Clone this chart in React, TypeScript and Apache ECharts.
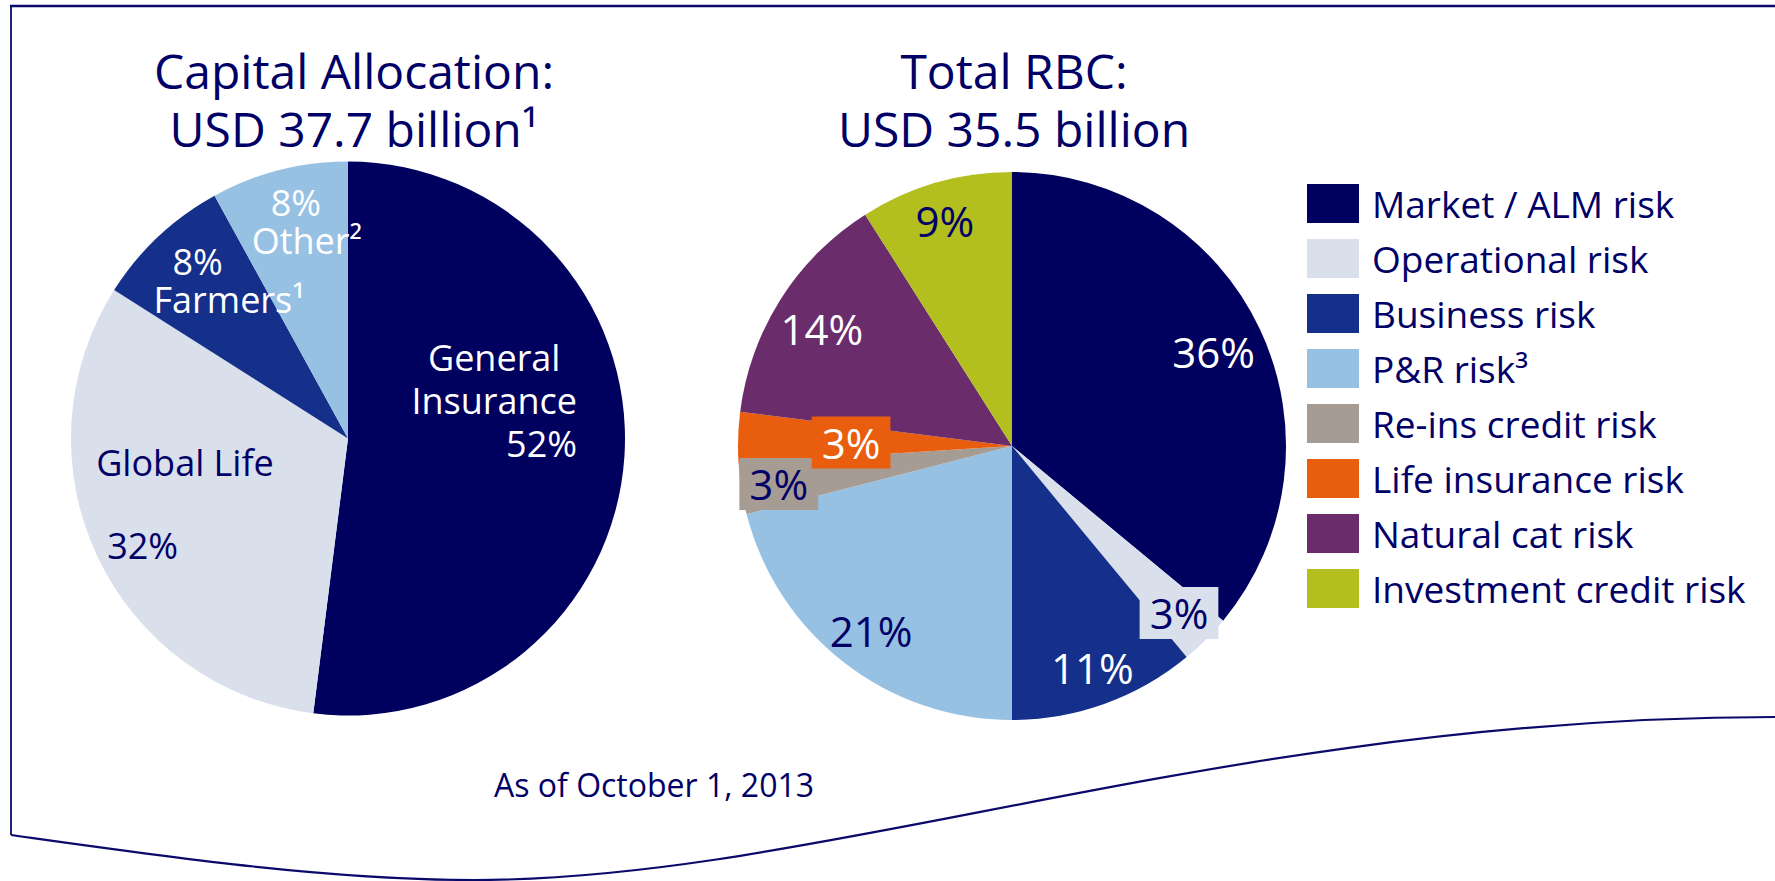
import React, { useEffect, useRef } from 'react';
import * as echarts from 'echarts';

const NAVY = '#000066';
const LINE = '#0a0a6b';
const FONT = '"Open Sans", "Noto Sans", sans-serif';

// Capital allocation (left pie)
const allocationNames = ['General Insurance', 'Global Life', 'Farmers¹', 'Other²'];
const allocationValues = [52, 32, 8, 8];
const allocationColors = ['#00005f', '#d9dfeb', '#15308a', '#97c1e3'];

// Total RBC (right pie)
const rbcNames = [
  'Market / ALM risk',
  'Operational risk',
  'Business risk',
  'P&R risk³',
  'Re-ins credit risk',
  'Life insurance risk',
  'Natural cat risk',
  'Investment credit risk',
];
const rbcValues = [36, 3, 11, 21, 3, 3, 14, 9];
const rbcColors = ['#00005f', '#d9dfeb', '#15308a', '#97c1e3', '#a69c94', '#e85d0e', '#6a2c6b', '#b3bf1f'];
const rbcLabelColors = ['#ffffff', NAVY, '#ffffff', NAVY, NAVY, '#ffffff', '#ffffff', NAVY];
const rbcLabelBoxes = [null, '#d9dfeb', null, null, '#a69c94', '#e85d0e', null, null];

const titleLeft = ['Capital Allocation:', 'USD 37.7 billion¹'];
const titleRight = ['Total RBC:', 'USD 35.5 billion'];
const footnote = 'As of October 1, 2013';

// label nudges relative to the library's inside-label position (style only)
const allocationLabelOffsets = [[5, -47], [-35, 5], [-22, -55], [-6, -80]];
const rbcLabelOffsets = [[75, -35], [68, 68], [33, 90], [-55, 74], [-95, 16], [-21, 1], [-72, -42], [-28, -91]];

export default function App() {
  const ref = useRef<HTMLDivElement>(null);

  useEffect(() => {
    if (!ref.current) return;
    const chart = echarts.init(ref.current, null, { renderer: 'svg' });

    const allocFormatter = (p: any) => {
      const v = p.value + '%';
      switch (p.dataIndex) {
        case 0: {
          const parts = String(p.name).split(' ');
          return `{w|${parts[0]}}\n{w|${parts[1]}}\n{wr|${v}}`;
        }
        case 1:
          return `{n|${p.name}}\n{np|${v}}`;
        default:
          return `{wp|${v}}\n{wl|${p.name}}`;
      }
    };

    const base = { fontFamily: FONT, fontSize: 36 };

    const option: any = {
      animation: false,
      backgroundColor: '#ffffff',
      legend: {
        data: rbcNames,
        orient: 'vertical',
        left: 1307,
        top: 184,
        padding: 0,
        itemWidth: 52,
        itemHeight: 39,
        itemGap: 16,
        icon: 'rect',
        selectedMode: false,
        textStyle: {
          fontFamily: FONT,
          fontSize: 37,
          color: NAVY,
          lineHeight: 39,
          padding: [0, 0, 0, 8],
        },
      },
      series: [
        {
          type: 'pie',
          center: [348, 438.5],
          radius: [0, 277],
          startAngle: 90,
          clockwise: true,
          silent: true,
          avoidLabelOverlap: false,
          emphasis: { disabled: true },
          itemStyle: { borderWidth: 0 },
          label: {
            show: true,
            position: 'inside',
            formatter: allocFormatter,
            fontFamily: FONT,
            fontSize: 36,
            rich: {
              w: { ...base, color: '#ffffff', lineHeight: 43, align: 'center' },
              wr: { ...base, color: '#ffffff', lineHeight: 43, align: 'right' },
              n: { ...base, color: NAVY, lineHeight: 83, align: 'left' },
              np: { ...base, color: NAVY, lineHeight: 83, align: 'left', padding: [0, 0, 0, 11] },
              wp: { ...base, color: '#ffffff', lineHeight: 38, align: 'left', padding: [0, 0, 0, 19] },
              wl: { ...base, color: '#ffffff', lineHeight: 38, align: 'left' },
            },
          },
          labelLine: { show: false },
          labelLayout: (params: any) => ({
            dx: allocationLabelOffsets[params.dataIndex][0],
            dy: allocationLabelOffsets[params.dataIndex][1],
          }),
          data: allocationNames.map((n, i) => ({
            name: n,
            value: allocationValues[i],
            itemStyle: { color: allocationColors[i] },
          })),
        },
        {
          type: 'pie',
          center: [1012, 446],
          radius: [0, 274],
          startAngle: 90,
          clockwise: true,
          silent: true,
          avoidLabelOverlap: false,
          emphasis: { disabled: true },
          itemStyle: { borderWidth: 0 },
          label: {
            show: true,
            position: 'inside',
            formatter: '{c}%',
            fontFamily: FONT,
            fontSize: 42,
            lineHeight: 42,
          },
          labelLine: { show: false },
          labelLayout: (params: any) => ({
            dx: rbcLabelOffsets[params.dataIndex][0],
            dy: rbcLabelOffsets[params.dataIndex][1],
          }),
          data: rbcNames.map((n, i) => ({
            name: n,
            value: rbcValues[i],
            itemStyle: { color: rbcColors[i] },
            label: rbcLabelBoxes[i]
              ? { color: rbcLabelColors[i], backgroundColor: rbcLabelBoxes[i], padding: [5, 10, 5, 10] }
              : { color: rbcLabelColors[i] },
          })),
        },
      ],
      graphic: [
        { type: 'line', silent: true, shape: { x1: 10, y1: 6, x2: 1775, y2: 6 }, style: { stroke: LINE, lineWidth: 2.5 } },
        { type: 'line', silent: true, shape: { x1: 11, y1: 5, x2: 11, y2: 835 }, style: { stroke: LINE, lineWidth: 1.8 } },
        {
          type: 'bezierCurve',
          silent: true,
          shape: { x1: 11, y1: 835, cpx1: 161, cpy1: 856, cpx2: 325, cpy2: 880, x2: 475, y2: 880 },
          style: { stroke: LINE, lineWidth: 2.2, fill: null },
        },
        {
          type: 'bezierCurve',
          silent: true,
          shape: { x1: 475, y1: 880, cpx1: 825, cpy1: 880, cpx2: 1225, cpy2: 717, x2: 1775, y2: 717 },
          style: { stroke: LINE, lineWidth: 2.2, fill: null },
        },
        ...titleLeft.map((t, i) => ({
          type: 'text',
          silent: true,
          x: 354,
          y: 70 + i * 58,
          style: { text: t, fontFamily: FONT, fontSize: 48, fill: NAVY, align: 'center', verticalAlign: 'middle' },
        })),
        ...titleRight.map((t, i) => ({
          type: 'text',
          silent: true,
          x: 1014,
          y: 70 + i * 58,
          style: { text: t, fontFamily: FONT, fontSize: 48, fill: NAVY, align: 'center', verticalAlign: 'middle' },
        })),
        {
          type: 'text',
          silent: true,
          x: 654,
          y: 784,
          style: { text: footnote, fontFamily: FONT, fontSize: 32, fill: NAVY, align: 'center', verticalAlign: 'middle' },
        },
      ],
    };

    chart.setOption(option);
    return () => {
      chart.dispose();
    };
  }, []);

  return (
    <div
      ref={ref}
      style={{ position: 'absolute', left: 0, top: 0, width: 1775, height: 881, background: '#ffffff' }}
    />
  );
}
